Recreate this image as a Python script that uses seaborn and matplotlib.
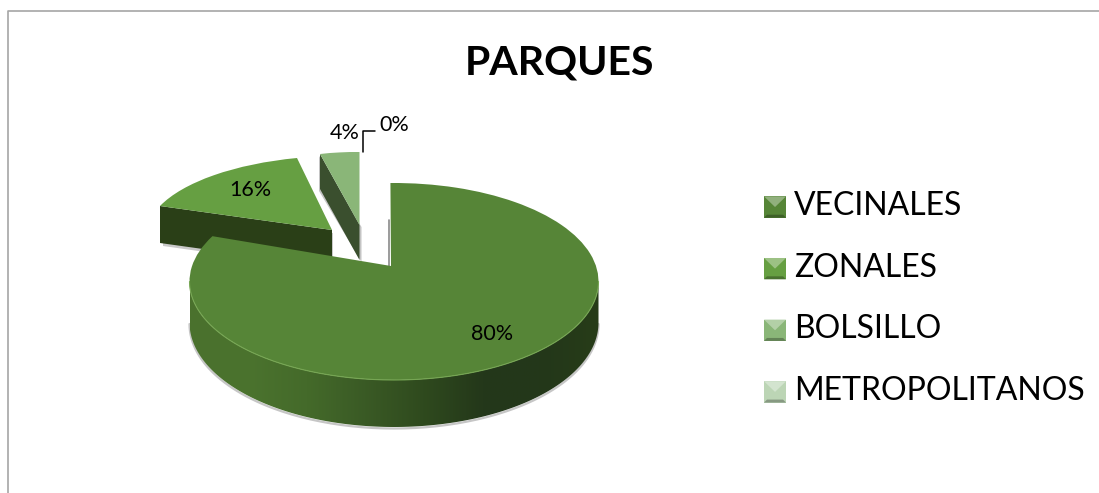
import numpy as np
import matplotlib
matplotlib.use("Agg")
import matplotlib.pyplot as plt
import seaborn as sns
from matplotlib.colors import LinearSegmentedColormap
from matplotlib.legend_handler import HandlerBase
from matplotlib.patches import Polygon
from matplotlib.transforms import Affine2D

# ---- data ----
categories = ["VECINALES", "ZONALES", "BOLSILLO", "METROPOLITANOS"]
values = [80, 16, 4, 0]
title = "PARQUES"
colors = ["#568537", "#669F42", "#8AB678", "#BCD5B5"]

sns.set_theme(style="white")
plt.rcParams["font.family"] = ["Lato", "DejaVu Sans"]

W, H = 1099, 493
CX, CY, RX, RY = 394.0, 281.5, 204.5, 98.5
fig = plt.figure(figsize=(W / 100, H / 100), dpi=100, facecolor="white")
ax = fig.add_axes([0, 0, 1, 1])


def D(x, y):
    """pixel position in the picture -> data units of the pie axes"""
    return np.array([(x - CX) / RX, (CY - y) / RY])


wedges, _, autotexts = ax.pie(
    values, colors=colors, startangle=90, counterclock=False, radius=1,
    autopct="%.0f%%", wedgeprops={"linewidth": 0},
    textprops={"fontsize": 15.5, "color": "black"},
)
ax.set_aspect("auto")
ax.set_frame_on(False)
ax.set_xlim(D(0, 0)[0], D(W, 0)[0])
ax.set_ylim(D(0, H)[1], D(0, 0)[1])


def unit(deg):
    return np.array([np.cos(np.radians(deg)), np.sin(np.radians(deg))])


def place(w, apex, p_theta1, p_theta2):
    """perspective look: send a wedge's apex and two corners to picture positions"""
    src = np.column_stack([unit(w.theta1), unit(w.theta2)])
    A = D(*apex)
    dst = np.column_stack([D(*p_theta1) - A, D(*p_theta2) - A])
    m = dst @ np.linalg.inv(src)
    mat = np.array([[m[0, 0], m[0, 1], A[0]], [m[1, 0], m[1, 1], A[1]], [0, 0, 1]])
    w.set_transform(Affine2D(mat) + ax.transData)


# main slice: perspective opens it slightly and lifts its apex
main, zon, bol, met = wedges
main.set_theta1(main.theta1 - 9.4)
main.set_theta2(main.theta2 + 1.0)
p = main.get_path()
v = p.vertices.copy()
v[np.all(np.isclose(v, 0), axis=1)] = D(391, 266)
p.vertices = v
main.set_zorder(4)

Z_A, Z_L, Z_T = (332, 230), (160, 206), (297, 158)
B_A, B_L, B_R = (359.5, 225), (320, 154), (359.5, 152)
place(zon, Z_A, Z_T, Z_L)
place(bol, B_A, B_L, B_R)
zon.set_zorder(3)
bol.set_zorder(3)
met.set_visible(False)


def wall(p1, p2, drop, **kw):
    pts = [D(*p1), D(*p2), D(p2[0], p2[1] + drop), D(p1[0], p1[1] + drop)]
    ax.add_patch(Polygon(pts, closed=True, linewidth=0, **kw))


# soft shadows and cut faces of the exploded slices
wall((Z_L[0] + 3, Z_L[1] + 3), (Z_A[0] + 1, Z_A[1] + 3), 37, facecolor="#c9c9c9", zorder=1)
wall(Z_L, Z_A, 37, facecolor="#2A3F17", zorder=2)
wall((B_L[0] - 1, B_L[1] + 2), (B_A[0] + 2, B_A[1] + 2), 35, facecolor="#c4c4c4", zorder=1)
wall(B_L, B_A, 35, facecolor="#3A4F2E", zorder=2)
ax.plot(*np.column_stack([D(388.5, 220), D(388.5, 266)]), color="#8a8a8a", lw=1.2, zorder=1)

# main slice side wall with its horizontal shading
t = np.radians(np.linspace(180, 360, 181))
upper = np.column_stack([np.cos(t), np.sin(t)])
lower = np.column_stack([np.cos(t), np.sin(t) * 104.5 / RY - 41 / RY])
poly = Polygon(np.vstack([upper, lower[::-1]]), closed=True, transform=ax.transData)
shade = LinearSegmentedColormap.from_list(
    "wall", ["#4A712D", "#4B732E", "#446A2A", "#3A5A25", "#2F4A1E", "#24381A", "#23371A", "#273C18"])
im = ax.imshow(np.linspace(0, 1, 256)[None, :], cmap=shade, aspect="auto",
               extent=[-1, 1, lower[:, 1].min(), 0], zorder=2.5)
im.set_clip_path(poly)
ax.set_xlim(D(0, 0)[0], D(W, 0)[0])
ax.set_ylim(D(0, H)[1], D(0, 0)[1])
ax.plot(lower[:, 0], lower[:, 1] - 1.5 / RY, color="#c6c6c6", lw=1.6, zorder=2.2)
ax.plot(upper[:, 0], upper[:, 1], color="#76A653", lw=0.8, zorder=4.5)

# value labels
label_pos = [(492, 334), (250, 190), (345, 133), (394, 125)]
for txt, pos in zip(autotexts, label_pos):
    txt.set_position(D(*pos))
    txt.set_ha("center")
    txt.set_va("center")
    txt.set_zorder(6)
leader = np.column_stack([D(363, 152), D(363, 130.5), D(375, 130.5)])
ax.plot(leader[0], leader[1], color="black", lw=1.1, zorder=6)

# title
ax.text(*D(559, 63), title, fontsize=29.5, fontweight="bold", color="black",
        ha="center", va="center", zorder=6)

# chart frame: only the top and left borders fall inside the picture
frame = np.column_stack([D(7.5, H), D(7.5, 10.5), D(W, 10.5)])
ax.plot(frame[0], frame[1], color="#a6a6a6", lw=1.2, zorder=0.5, clip_on=False)


class Bevel(HandlerBase):
    """legend key drawn as the small bevelled square of the reference"""

    def create_artists(self, legend, orig, x0, y0, width, height, fontsize, trans):
        c = np.array(matplotlib.colors.to_rgb(orig.get_facecolor()))
        lo = c * 0.72
        hi = c + (1 - c) * 0.35
        y0 = y0 - height * 0.1
        x1, y1 = x0 + width, y0 + height
        xm, ym = x0 + width / 2, y0 + height * 0.5
        band = height * 0.14
        parts = [
            Polygon([(x0, y0), (x1, y0), (x1, y1), (x0, y1)], closed=True,
                    facecolor=c, linewidth=0, transform=trans),
            Polygon([(x0, y1), (x1, y1), (xm, ym)], closed=True,
                    facecolor=hi, linewidth=0, transform=trans),
            Polygon([(x0, y0), (x1, y0), (x1 - band, y0 + band), (x0 + band, y0 + band)],
                    closed=True, facecolor=lo, linewidth=0, transform=trans),
        ]
        return parts


for w, col in zip(wedges, colors):
    w.set_facecolor(col)
leg = ax.legend(
    wedges, categories, loc="upper left", bbox_to_anchor=(764 / W, 1 - 191 / H),
    bbox_transform=fig.transFigure, frameon=False, fontsize=23, borderpad=0,
    borderaxespad=0, handlelength=0.69, handleheight=0.65, handletextpad=0.25,
    labelspacing=0.99, handler_map={w: Bevel() for w in wedges},
)
leg.set_zorder(6)
for t_ in leg.get_texts():
    t_.set_color("black")

fig.savefig("out.png", dpi=100, facecolor="white")
